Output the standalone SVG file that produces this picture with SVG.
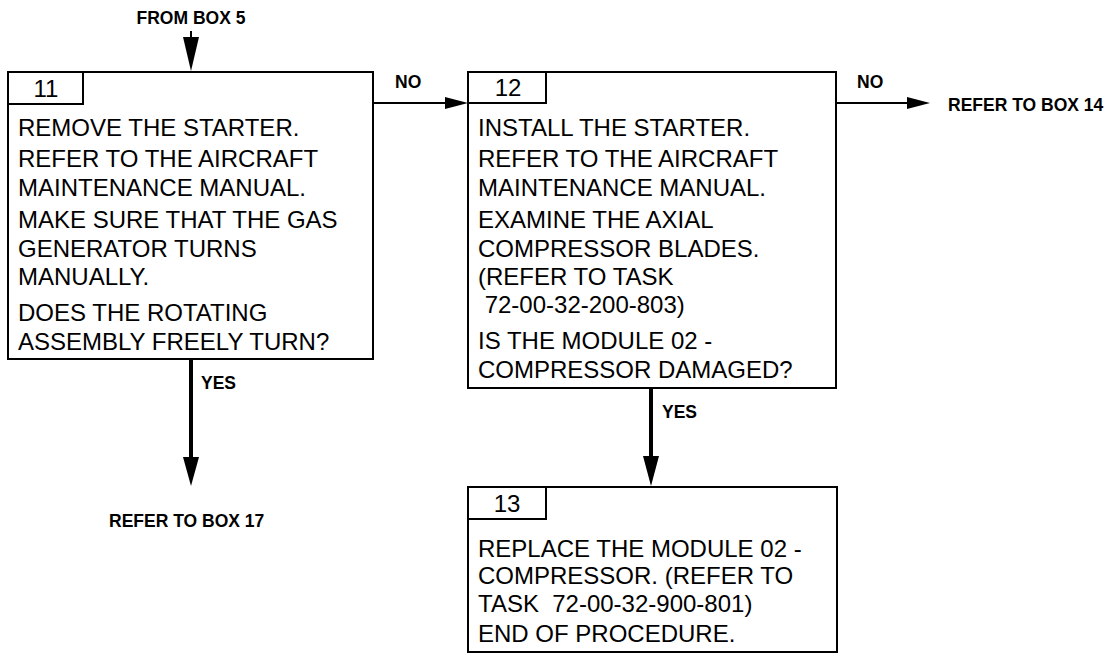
<svg xmlns="http://www.w3.org/2000/svg" width="1116" height="653" viewBox="0 0 1116 653">
<style>
.box{fill:#fff;stroke:#000;stroke-width:2}
.tab{fill:none;stroke:#000;stroke-width:2}
.body{font-family:"Liberation Sans",Arial,sans-serif;font-size:24px;fill:#000}
.num{font-family:"Liberation Sans",Arial,sans-serif;font-size:24px;fill:#000;text-anchor:middle}
.lbl{font-family:"Liberation Sans",Arial,sans-serif;font-size:17.5px;font-weight:bold;fill:#000}
.thin{stroke:#000;stroke-width:2;fill:none}
.thick{stroke:#000;stroke-width:4;fill:none}
.head{fill:#000;stroke:none}
</style>
<rect width="1116" height="653" fill="#fff"/>
<g id="connectors">
  <line class="thin" x1="191" y1="31" x2="191" y2="40"/>
  <polygon class="head" points="183,37 199,37 191,71"/>
  <line class="thin" x1="373" y1="103" x2="447" y2="103"/>
  <polygon class="head" points="445,97 445,109 468,103"/>
  <line class="thin" x1="836" y1="103" x2="909" y2="103"/>
  <polygon class="head" points="907,97 907,109 930,103"/>
  <line class="thick" x1="191" y1="359" x2="191" y2="460"/>
  <polygon class="head" points="183,457 199,457 191,486"/>
  <line class="thick" x1="651" y1="388" x2="651" y2="459"/>
  <polygon class="head" points="643,456 659,456 651,486"/>
  <text class="lbl" x="191" y="24" text-anchor="middle">FROM BOX 5</text>
  <text class="lbl" x="395" y="88">NO</text>
  <text class="lbl" x="857" y="88">NO</text>
  <text class="lbl" x="948" y="111">REFER TO BOX 14</text>
  <text class="lbl" x="201" y="389">YES</text>
  <text class="lbl" x="109" y="527">REFER TO BOX 17</text>
  <text class="lbl" x="662" y="418">YES</text>
</g>
<g id="box11">
  <rect class="box" x="8" y="72" width="365" height="287"/>
  <polyline class="tab" points="8,104 83,104 83,72"/>
  <text class="num" x="46" y="97">11</text>
  <text class="body">
    <tspan x="18" y="136">REMOVE THE STARTER.</tspan>
    <tspan x="18" y="167">REFER TO THE AIRCRAFT</tspan>
    <tspan x="18" y="196">MAINTENANCE MANUAL.</tspan>
    <tspan x="18" y="228">MAKE SURE THAT THE GAS</tspan>
    <tspan x="18" y="257">GENERATOR TURNS</tspan>
    <tspan x="18" y="285">MANUALLY.</tspan>
    <tspan x="18" y="321">DOES THE ROTATING</tspan>
    <tspan x="18" y="350">ASSEMBLY FREELY TURN?</tspan>
  </text>
</g>
<g id="box12">
  <rect class="box" x="468" y="72" width="368" height="316"/>
  <polyline class="tab" points="468,103 546,103 546,72"/>
  <text class="num" x="508" y="96">12</text>
  <text class="body">
    <tspan x="478" y="136">INSTALL THE STARTER.</tspan>
    <tspan x="478" y="167">REFER TO THE AIRCRAFT</tspan>
    <tspan x="478" y="196">MAINTENANCE MANUAL.</tspan>
    <tspan x="478" y="228">EXAMINE THE AXIAL</tspan>
    <tspan x="478" y="257">COMPRESSOR BLADES.</tspan>
    <tspan x="478" y="285">(REFER TO TASK</tspan>
    <tspan x="478" y="313">&#160;72-00-32-200-803)</tspan>
    <tspan x="478" y="349">IS THE MODULE 02 -</tspan>
    <tspan x="478" y="378">COMPRESSOR DAMAGED?</tspan>
  </text>
</g>
<g id="box13">
  <rect class="box" x="468" y="487" width="369" height="165"/>
  <polyline class="tab" points="468,519 546,519 546,487"/>
  <text class="num" x="507" y="512">13</text>
  <text class="body">
    <tspan x="478" y="557">REPLACE THE MODULE 02 -</tspan>
    <tspan x="478" y="584">COMPRESSOR. (REFER TO</tspan>
    <tspan x="478" y="612">TASK &#160;72-00-32-900-801)</tspan>
    <tspan x="478" y="642">END OF PROCEDURE.</tspan>
  </text>
</g>
</svg>
